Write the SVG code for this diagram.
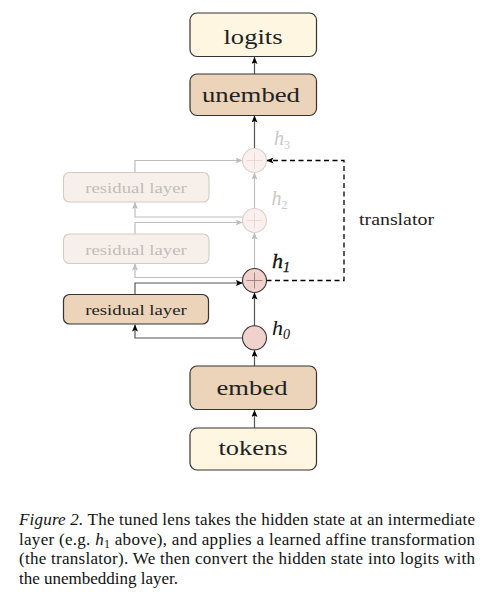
<svg xmlns="http://www.w3.org/2000/svg" width="497" height="595" viewBox="0 0 497 595">
<style>
.box{stroke:#333;stroke-width:1.2}
.cream{fill:#FFF6E2}
.tan{fill:#EBD4B9}
.fbox{fill:#F7F0EA;stroke:#D2CCC8;stroke-width:1.1}
.serif{font-family:"Liberation Serif","Times New Roman",Times,"DejaVu Serif","Noto Serif",serif}
.lbl{fill:#222;text-anchor:middle}
.big{font-size:22px}
.res{font-size:15.5px}
.flbl{fill:#C2BCB6}
.dk{fill:none;stroke:#555;stroke-width:1.2}
.gr{fill:none;stroke:#BDBDBD;stroke-width:1.2}
.circ{fill:#F0D1CC;stroke:#333;stroke-width:1.1}
.fcirc{fill:#FBF0EE;stroke:#D9CFCD;stroke-width:1.1}
.plus{stroke:#8A7572;stroke-width:0.8}
.fplus{stroke:#E2D6D4;stroke-width:0.8}
.h{font-style:italic}
.cap{font-size:17px;fill:#111}
</style>
<defs>
<marker id="ab" markerUnits="userSpaceOnUse" markerWidth="8" markerHeight="8" refX="7" refY="3" orient="auto"><path d="M0,0 L7,3 L0,6 L1.6,3 z" fill="#000"/></marker>
<marker id="ag" markerUnits="userSpaceOnUse" markerWidth="8" markerHeight="8" refX="7" refY="3" orient="auto"><path d="M0,0 L7,3 L0,6 L1.6,3 z" fill="#BDBDBD"/></marker>
</defs>

<g id="connectors">
<path class="dk" d="M254.5,428 L254.5,410" marker-end="url(#ab)"/>
<path class="dk" d="M254.5,366 L254.5,350" marker-end="url(#ab)"/>
<path class="dk" d="M254.5,326 L254.5,292.5" marker-end="url(#ab)"/>
<path class="dk" d="M242.5,338 L135,338 L135,324.5" marker-end="url(#ab)"/>
<path class="dk" d="M135,294.5 L135,283 L242.8,283" marker-end="url(#ab)"/>
<path class="gr" d="M254.5,268.5 L254.5,232.5" marker-end="url(#ag)"/>
<path class="gr" d="M242.7,277.5 L135,277.5 L135,263.5" marker-end="url(#ag)"/>
<path class="gr" d="M135,234 L135,222.5 L242.6,222.5" marker-end="url(#ag)"/>
<path class="gr" d="M242.7,217 L135,217 L135,202" marker-end="url(#ag)"/>
<path class="gr" d="M135,172 L135,160.5 L242.5,160.5" marker-end="url(#ag)"/>
<path class="gr" d="M254.5,208.5 L254.5,172.5" marker-end="url(#ag)"/>
<path class="dk" d="M254.5,148.5 L254.5,115.5" marker-end="url(#ab)"/>
<path class="dk" d="M254.5,74 L254.5,57" marker-end="url(#ab)"/>
<path d="M266.5,280.5 L344,280.5 L344,160.5 L266.5,160.5" fill="none" stroke="#000" stroke-width="1.3" stroke-dasharray="5,3.5" marker-end="url(#ab)"/>
</g>

<g id="logits"><rect class="box cream" x="190" y="13" width="126.5" height="43.5" rx="7"/><text class="serif lbl big" x="253" y="43.5" textLength="59" lengthAdjust="spacingAndGlyphs">logits</text></g>
<g id="unembed"><rect class="box tan" x="190" y="74" width="126.5" height="41.5" rx="7"/><text class="serif lbl big" x="251" y="102" textLength="98" lengthAdjust="spacingAndGlyphs">unembed</text></g>
<g id="embed"><rect class="box tan" x="190" y="366" width="126.5" height="43.5" rx="7"/><text class="serif lbl big" x="252" y="395" textLength="71" lengthAdjust="spacingAndGlyphs">embed</text></g>
<g id="tokens"><rect class="box cream" x="190" y="428" width="126.5" height="42" rx="7"/><text class="serif lbl big" x="253" y="454.5" textLength="69" lengthAdjust="spacingAndGlyphs">tokens</text></g>

<g id="residual3"><rect class="fbox" x="63.5" y="172.5" width="145.5" height="29.5" rx="6"/><text class="serif lbl res flbl" x="136" y="193" textLength="101.5" lengthAdjust="spacingAndGlyphs">residual layer</text></g>
<g id="residual2"><rect class="fbox" x="63.5" y="234" width="145.5" height="29.5" rx="6"/><text class="serif lbl res flbl" x="136" y="254.8" textLength="101.5" lengthAdjust="spacingAndGlyphs">residual layer</text></g>
<g id="residual1"><rect class="box tan" x="63.5" y="294.5" width="145" height="29.5" rx="6"/><text class="serif lbl res" x="136" y="315" textLength="101.5" lengthAdjust="spacingAndGlyphs">residual layer</text></g>

<g id="add3"><circle class="fcirc" cx="254.5" cy="160.5" r="12"/><path class="fplus" d="M246.5,160.5 H262.5 M254.5,152.5 V168.5"/></g>
<g id="add2"><circle class="fcirc" cx="254.5" cy="220.5" r="12"/><path class="fplus" d="M246.5,220.5 H262.5 M254.5,212.5 V228.5"/></g>
<g id="add1"><circle class="circ" cx="254.5" cy="280.5" r="12"/><path class="plus" d="M246.5,280.5 H262.5 M254.5,272.5 V288.5"/></g>
<g id="h0node"><circle class="circ" cx="254.5" cy="337.8" r="12"/></g>

<g id="labels">
<text class="serif h" x="272" y="335" font-size="22" fill="#111">h<tspan font-size="14" dy="4">0</tspan></text>
<text class="serif h" x="272" y="268" font-size="22" fill="#111" stroke="#111" stroke-width="0.3">h<tspan font-size="14" dy="4">1</tspan></text>
<text class="serif h" x="271.5" y="205" font-size="20" fill="#C8C8C8">h<tspan font-size="12" dy="3.5" font-style="normal">2</tspan></text>
<text class="serif h" x="274" y="145" font-size="20" fill="#C8C8C8">h<tspan font-size="12" dy="3.5" font-style="normal">3</tspan></text>
<text class="serif" x="359" y="225" font-size="16" fill="#222" textLength="75" lengthAdjust="spacingAndGlyphs">translator</text>
</g>

<g id="caption">
<text class="serif cap" x="19" y="525" textLength="456" lengthAdjust="spacing"><tspan font-style="italic">Figure 2.</tspan> The tuned lens takes the hidden state at an intermediate</text>
<text class="serif cap" x="19" y="544.5" textLength="456" lengthAdjust="spacing">layer (e.g. <tspan font-style="italic">h</tspan><tspan font-size="12" dy="3">1</tspan><tspan dy="-3"> above), and applies a learned affine transformation</tspan></text>
<text class="serif cap" x="19" y="564" textLength="456" lengthAdjust="spacing">(the translator). We then convert the hidden state into logits with</text>
<text class="serif cap" x="19" y="583.5">the unembedding layer.</text>
</g>
</svg>
